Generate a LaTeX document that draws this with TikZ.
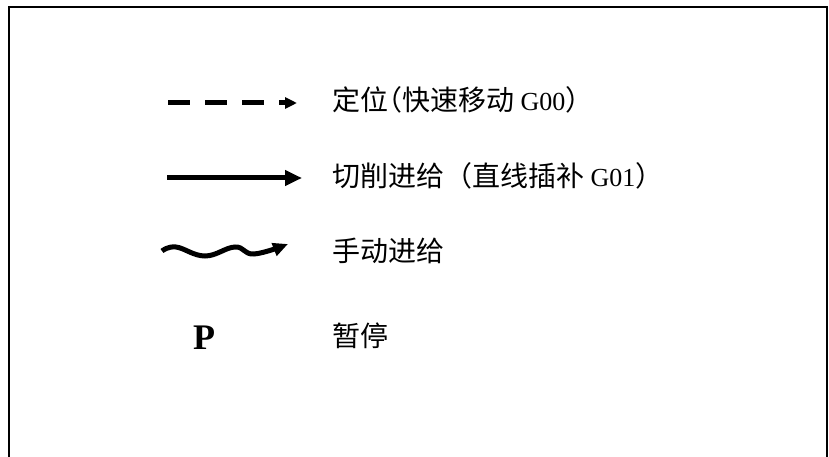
\documentclass[tikz,border=0pt]{standalone}
\usepackage{fontspec}
\setmainfont{Liberation Serif}
\newfontfamily\cjk{Noto Sans CJK SC}
\newcommand\zhtxt[1]{{\cjk\fontsize{28}{30}\selectfont #1}}
\usetikzlibrary{arrows.meta}
\begin{document}
\begin{tikzpicture}[x=1pt,y=-1pt,
  lbl/.style={anchor=base west, inner sep=0pt, font=\fontsize{26}{30}\selectfont},
  sym/.style={line width=5pt}]
\useasboundingbox (0,0) rectangle (829,457);
% frame (bottom edge lies outside the picture)
\coordinate (fbl) at (8.5,470);
\coordinate (ftl) at (8.5,7);
\coordinate (ftr) at (827,7);
\coordinate (fbr) at (827,470);
\draw[line width=2pt] (fbl) -- (ftl) -- (ftr) -- (fbr);
% rapid positioning
\coordinate (a1s) at (168,103);
\coordinate (a1e) at (297,103);
\draw[sym, dash pattern=on 22pt off 15pt, -{Triangle[length=12pt,width=11pt]}] (a1s) -- (a1e);
\node[lbl] (t1) at (332,111) {\zhtxt{定位\makebox[0.5em][r]{（}快速移动} G00\zhtxt{）}};
% cutting feed
\coordinate (a2s) at (167,178);
\coordinate (a2e) at (302,178);
\draw[sym, -{Triangle[length=17pt,width=15pt]}] (a2s) -- (a2e);
\node[lbl] (t2) at (332,186) {\zhtxt{切削进给（直线插补} G01\zhtxt{）}};
% manual feed
\draw[sym, -{Triangle[length=15pt,width=13pt]}] plot[smooth, tension=0.7] coordinates {(162,251) (176,247) (205,256) (235,247) (254,254) (288,244)};
\node[lbl] (t3) at (332,261) {\zhtxt{手动进给}};
% pause
\node[anchor=base west, inner sep=0pt, font=\fontsize{36}{40}\selectfont\bfseries] (p) at (193,349) {P};
\node[lbl] (t4) at (332,346) {\zhtxt{暂停}};
\end{tikzpicture}
\end{document}
